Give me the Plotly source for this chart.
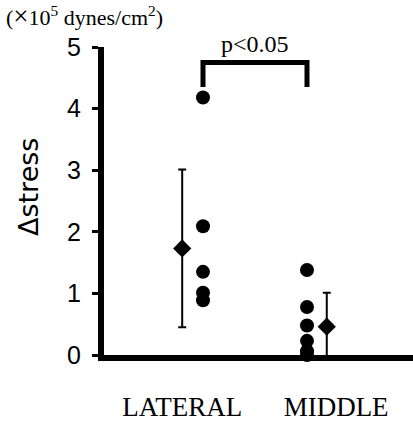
import plotly.graph_objects as go

# Data
lateral_values = [4.18, 2.09, 1.35, 1.01, 0.89]
middle_values = [1.38, 0.78, 0.48, 0.23, 0.06, 0.0]
mean_values = [1.73, 0.46]
sd_values = [1.28, 0.55]
category_labels = ["LATERAL", "MIDDLE"]
y_ticks = [0, 1, 2, 3, 4, 5]
bracket_low, bracket_high = 4.35, 4.75
p_text = "p<0.05"
unit_text = "(<span style='font-size:27px'>×</span>10<sup>5</sup> dynes/cm<sup>2</sup>)"
y_title = "Δstress"

L, R, T, B = 104, 0, 47, 68
W, H = 413, 423
PW, PH = W - L - R, H - T - B
px_per_unit = 104.0
x_left = 1 - (203 - L) / px_per_unit
x_right = x_left + PW / px_per_unit


def px_x(px):
    return (px - L) / PW


def px_y(py):
    return (H - B - py) / PH


fig = go.Figure()

# individual points
fig.add_trace(go.Scatter(
    x=[1] * len(lateral_values), y=lateral_values, mode="markers",
    marker=dict(symbol="circle", size=14, color="black"),
    cliponaxis=False, showlegend=False))
fig.add_trace(go.Scatter(
    x=[2] * len(middle_values), y=middle_values, mode="markers",
    marker=dict(symbol="circle", size=14, color="black"),
    cliponaxis=False, showlegend=False))

# mean +/- SD
fig.add_trace(go.Scatter(
    x=[0.80, 2.19], y=mean_values, mode="markers",
    marker=dict(symbol="diamond", size=14, color="black"),
    error_y=dict(type="data", array=sd_values, visible=True,
                 color="black", thickness=2, width=4),
    cliponaxis=True, showlegend=False))

# significance bracket
fig.add_trace(go.Scatter(
    x=[1, 1, 2, 2], y=[bracket_low, bracket_high, bracket_high, bracket_low],
    mode="lines", line=dict(color="black", width=5),
    cliponaxis=False, showlegend=False))

fig.add_annotation(x=1.5, y=px_y(44), xref="x", yref="paper", text=p_text,
                   showarrow=False, xanchor="center", yanchor="middle",
                   font=dict(family="Liberation Serif", size=24, color="black"))

fig.add_annotation(x=px_x(4), y=px_y(16),
                   xref="paper", yref="paper", text=unit_text,
                   showarrow=False, xanchor="left", yanchor="middle",
                   font=dict(family="Liberation Serif", size=22, color="black"))

fig.add_annotation(x=px_x(28), y=px_y(187),
                   xref="paper", yref="paper", text=y_title, textangle=-90,
                   showarrow=False, xanchor="center", yanchor="middle",
                   font=dict(family="DejaVu Sans", size=27, color="black"))

fig.update_layout(
    width=W, height=H,
    margin=dict(l=L, r=R, t=T, b=B, pad=0, autoexpand=False),
    plot_bgcolor="white", paper_bgcolor="white",
    showlegend=False,
)
fig.update_xaxes(
    range=[x_left, x_right], showgrid=False, zeroline=False, automargin=False,
    showline=True, linecolor="black", linewidth=6,
    tickmode="array", tickvals=[0.80, 2.28], ticktext=category_labels,
    ticks="", ticklabelstandoff=23,
    tickfont=dict(family="Liberation Serif", size=27, color="black"),
)
fig.update_yaxes(
    range=[0, 5], showgrid=False, zeroline=False, automargin=False,
    showline=True, linecolor="black", linewidth=6,
    tickmode="array", tickvals=y_ticks,
    ticks="outside", ticklen=6, tickwidth=2.5, tickcolor="black",
    ticklabelstandoff=6,
    tickfont=dict(family="Liberation Sans", size=25, color="black"),
)

fig.write_html(
    "out.html",
    config={"displayModeBar": False},
    post_script="document.body.style.margin='0';document.body.style.overflow='hidden';",
)
